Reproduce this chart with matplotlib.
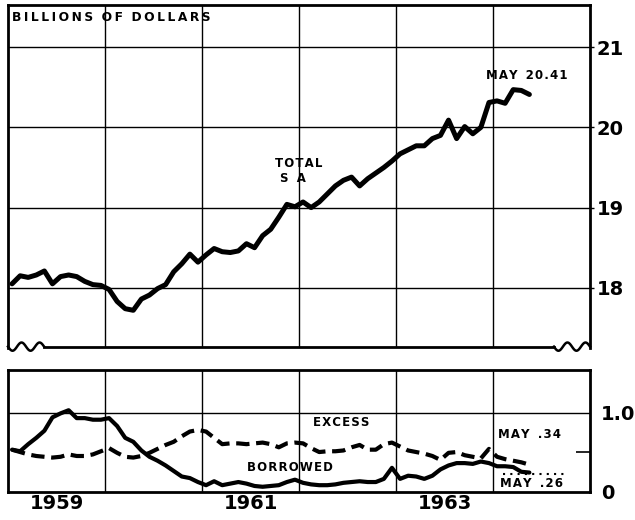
import numpy as np
import matplotlib
matplotlib.use("Agg")
from matplotlib import pyplot as plt

# monthly, Jan 1959 - May 1964
total_sa = [18.05, 18.15, 18.13, 18.16, 18.21, 18.05, 18.14, 18.16, 18.14, 18.08, 18.04, 18.03,
            17.98, 17.83, 17.74, 17.72, 17.86, 17.91, 17.99, 18.04, 18.20, 18.30, 18.42, 18.32,
            18.41, 18.49, 18.45, 18.44, 18.46, 18.55, 18.50, 18.65, 18.73, 18.88, 19.04, 19.01,
            19.07, 19.00, 19.07, 19.17, 19.27, 19.34, 19.38, 19.27, 19.36, 19.43, 19.50, 19.58,
            19.67, 19.72, 19.77, 19.77, 19.86, 19.90, 20.09, 19.86, 20.01, 19.92, 20.00, 20.31,
            20.33, 20.30, 20.47, 20.46, 20.41]
borrowed = [0.53, 0.51, 0.60, 0.68, 0.77, 0.94, 0.99, 1.03, 0.93, 0.93, 0.91, 0.91,
            0.93, 0.83, 0.68, 0.63, 0.52, 0.44, 0.39, 0.33, 0.26, 0.19, 0.17, 0.12,
            0.08, 0.13, 0.08, 0.10, 0.12, 0.10, 0.07, 0.06, 0.07, 0.08, 0.12, 0.15,
            0.11, 0.09, 0.08, 0.08, 0.09, 0.11, 0.12, 0.13, 0.12, 0.12, 0.16, 0.30,
            0.16, 0.20, 0.19, 0.16, 0.20, 0.28, 0.33, 0.36, 0.36, 0.35, 0.38, 0.36,
            0.32, 0.32, 0.31, 0.25, 0.24]
excess = [0.53, 0.50, 0.47, 0.45, 0.44, 0.43, 0.44, 0.47, 0.45, 0.45, 0.47, 0.51,
          0.55, 0.49, 0.44, 0.43, 0.45, 0.49, 0.54, 0.59, 0.63, 0.70, 0.76, 0.78,
          0.76, 0.68, 0.60, 0.61, 0.61, 0.60, 0.61, 0.62, 0.60, 0.56, 0.61, 0.62,
          0.61, 0.55, 0.50, 0.51, 0.51, 0.52, 0.56, 0.59, 0.53, 0.53, 0.60, 0.62,
          0.57, 0.52, 0.50, 0.48, 0.45, 0.40, 0.49, 0.50, 0.46, 0.44, 0.42, 0.54,
          0.44, 0.41, 0.39, 0.37, 0.34]
year_labels = ["1959", "1961", "1963"]
top_ticks = [18, 19, 20, 21]

months = 1959 + (np.arange(len(total_sa)) + 0.5) / 12.0
year_lines = [1960, 1961, 1962, 1963, 1964]


def spaced(s, gap="\u200a"):
    # the old chart lettering is widely tracked
    return gap.join(s)


plt.rcParams['font.family'] = ['DejaVu Sans']
fig = plt.figure(figsize=(6.35, 5.2), dpi=100)
ax1 = fig.add_axes([8 / 635, 1 - 348 / 520, 582 / 635, 343 / 520])
ax2 = fig.add_axes([8 / 635, 1 - 491.5 / 520, 582 / 635, 121.5 / 520])

for ax in (ax1, ax2):
    ax.set_xlim(1959, 1965)
    for s in ax.spines.values():
        s.set_linewidth(2.0)
    for yr in year_lines:
        ax.axvline(yr, color='black', lw=1.0, zorder=1)
    ax.set_xticks([])

# top panel
ax1.set_ylim(17.25, 21.525)
for v in top_ticks:
    ax1.axhline(v, color='black', lw=1.0, zorder=1)
ax1.plot(months, total_sa, color='black', lw=3.6, solid_capstyle='round',
         solid_joinstyle='round', zorder=3)
ax1.yaxis.tick_right()
ax1.set_yticks(top_ticks)
ax1.set_yticklabels([str(v) for v in top_ticks], fontsize=14, fontweight='bold')
ax1.tick_params(axis='y', direction='out', length=3, width=1.0, pad=2)

# broken bottom border
ax1.spines['bottom'].set_visible(False)
t = np.linspace(0, 1, 60)
wave = 0.012 * np.sin(t * 4 * np.pi)
ax1.plot(t * 0.062, -wave + 0.004, transform=ax1.transAxes, color='black', lw=1.8, clip_on=False)
ax1.plot(0.938 + t * 0.062, -wave + 0.004, transform=ax1.transAxes, color='black', lw=1.8, clip_on=False)
ax1.plot([0.062, 0.938], [0.004, 0.004], transform=ax1.transAxes, color='black', lw=2.0, clip_on=False)

lab = dict(fontsize=8.5, fontweight='bold', va='center')
ax1.text(0.007, 0.963,
         "  ".join(spaced(w, "\u2009") for w in ["BILLIONS", "OF", "DOLLARS"]),
         transform=ax1.transAxes, ha='left', fontsize=8.8, fontweight='bold', va='center')
ax1.text(1962.0, 19.55, spaced("TOTAL"), ha='center', **lab)
ax1.text(1961.94, 19.36, "S  A", ha='center', **lab)
ax1.text(1964.35, 20.65, spaced("MAY") + "  " + spaced("20.41"), ha='center', **lab)

# bottom panel
ax2.set_ylim(0, 1.54)
ax2.axhline(1.0, color='black', lw=1.0, zorder=1)
ax2.plot(months, borrowed, color='black', lw=3.0, solid_capstyle='round',
         solid_joinstyle='round', zorder=3)
ax2.plot(months, excess, color='black', lw=3.0, linestyle=(0, (3.2, 1.6)), zorder=3)
ax2.yaxis.tick_right()
ax2.set_yticks([0, 1.0])
ax2.set_yticklabels(["0", "1.0"], fontsize=14, fontweight='bold')
ax2.tick_params(axis='y', which='major', length=0, pad=8)
ax2.set_yticks([0.5], minor=True)
ax2.tick_params(axis='y', which='minor', direction='in', length=10, width=1.2)
ax2.set_xticks([1959.5, 1961.5, 1963.5])
ax2.set_xticklabels(year_labels, fontsize=14, fontweight='bold')
ax2.tick_params(axis='x', length=0, pad=2)

ax2.text(1962.44, 0.87, spaced("EXCESS"), ha='center', **lab)
ax2.text(1961.91, 0.31, spaced("BORROWED"), ha='center', **lab)
ax2.text(1964.38, 0.72, spaced("MAY") + "  " + spaced(".34"), ha='center', **lab)
ax2.text(1964.40, 0.10, spaced("MAY") + "  " + spaced(".26"), ha='center', **lab)
ax2.hlines(0.22, 1964.1, 1964.76, colors='black', linestyles=(0, (1, 2.5)), lw=1.5)

fig.savefig("out.png", dpi=100)
